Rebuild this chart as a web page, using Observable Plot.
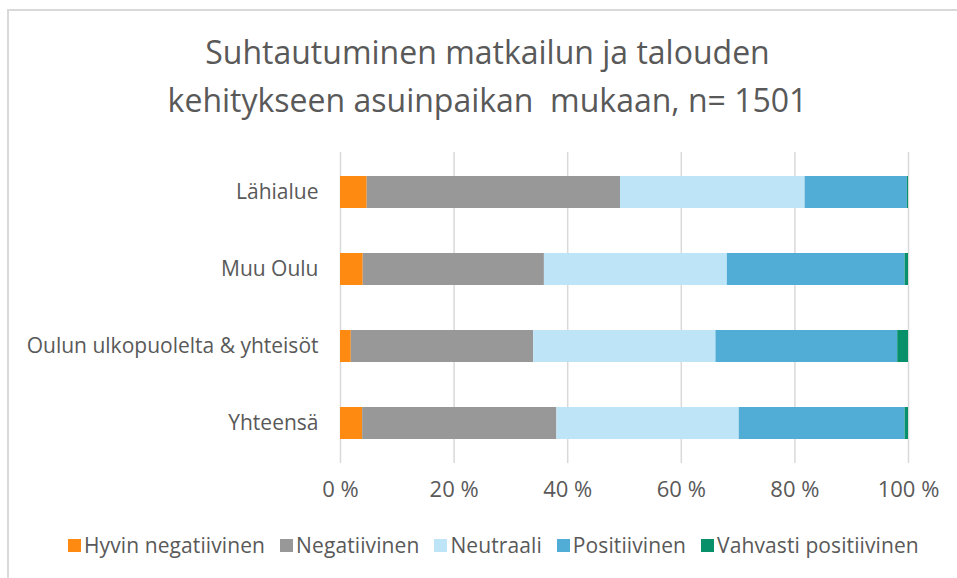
<!DOCTYPE html>
<html>
<head>
<meta charset="utf-8">
<script src="https://cdn.jsdelivr.net/npm/d3@7"></script>
<script src="https://cdn.jsdelivr.net/npm/@observablehq/plot@0.6"></script>
<style>
  html, body { margin: 0; padding: 0; background: #fff; }
  #wrap { position: relative; width: 957px; height: 578px; overflow: hidden;
    font-family: "Open Sans", Lato, sans-serif; color: #595959; }
  #frame { position: absolute; left: 7px; top: 9px; width: 1000px; height: 1000px;
    border-left: 2px solid #D9D9D9; border-top: 2px solid #D9D9D9; box-sizing: border-box; }
  #title { position: absolute; left: 0; width: 975px; top: 28px; text-align: center;
    font-size: 32px; line-height: 48px; color: #595959; }
  #chart { position: absolute; left: 0; top: 130px; }
  #legend { position: absolute; left: 68px; top: 531px; display: flex;
    font-size: 21px; color: #595959; gap: 15px; white-space: nowrap; letter-spacing: 0.1px; }
  #legend .item { display: flex; align-items: center; gap: 3px; }
  #legend .sw { width: 13px; height: 13px; display: inline-block; }
</style>
</head>
<body>
<div id="wrap">
  <div id="frame"></div>
  <div id="title">Suhtautuminen matkailun ja talouden<br>kehitykseen asuinpaikan&nbsp; mukaan, n= 1501</div>
  <div id="chart"></div>
  <div id="legend"></div>
</div>
<script>
const categories = ["Lähialue", "Muu Oulu", "Oulun ulkopuolelta & yhteisöt", "Yhteensä"];
const series = ["Hyvin negatiivinen", "Negatiivinen", "Neutraali", "Positiivinen", "Vahvasti positiivinen"];
const colors = ["#FF8A12", "#989898", "#BEE4F7", "#52ADD6", "#07906A"];
const hyvinNegatiivinen = [4.7, 4.0, 1.9, 3.9];
const negatiivinen = [44.6, 31.9, 32.1, 34.2];
const neutraali = [32.5, 32.2, 32.1, 32.1];
const positiivinen = [18.0, 31.3, 32.0, 29.2];
const vahvastiPositiivinen = [0.2, 0.6, 1.9, 0.6];
const xTicks = [0, 20, 40, 60, 80, 100];

const seriesValues = [hyvinNegatiivinen, negatiivinen, neutraali, positiivinen, vahvastiPositiivinen];
const data = [];
series.forEach((s, i) => categories.forEach((c, j) => data.push({category: c, series: s, value: seriesValues[i][j]})));

const chart = Plot.plot({
  width: 957,
  height: 380,
  marginLeft: 340,
  marginRight: 49,
  marginTop: 22,
  marginBottom: 47,
  style: {fontFamily: '"Open Sans", Lato, sans-serif', fontSize: "21px", color: "#595959", background: "transparent"},
  x: {domain: [0, 100], ticks: xTicks, tickFormat: d => d + " %", label: null},
  y: {domain: categories, paddingInner: 0.588, paddingOuter: 0.294, label: null},
  color: {domain: series, range: colors},
  marks: [
    Plot.ruleX(xTicks, {stroke: "#D9D9D9", strokeWidth: 1.5}),
    Plot.barX(data, {x: "value", y: "category", fill: "series", order: series}),
    Plot.axisX({ticks: xTicks, tickFormat: d => d + " %", tickSize: 0, tickPadding: 18, fontSize: 22, label: null}),
    Plot.axisY({tickSize: 0, tickPadding: 22, fontSize: 21, label: null})
  ]
});
document.getElementById("chart").appendChild(chart);

const legend = document.getElementById("legend");
series.forEach((s, i) => {
  const item = document.createElement("div");
  item.className = "item";
  const sw = document.createElement("span");
  sw.className = "sw";
  sw.style.background = colors[i];
  const t = document.createElement("span");
  t.textContent = s;
  item.appendChild(sw); item.appendChild(t);
  legend.appendChild(item);
});
</script>
</body>
</html>
